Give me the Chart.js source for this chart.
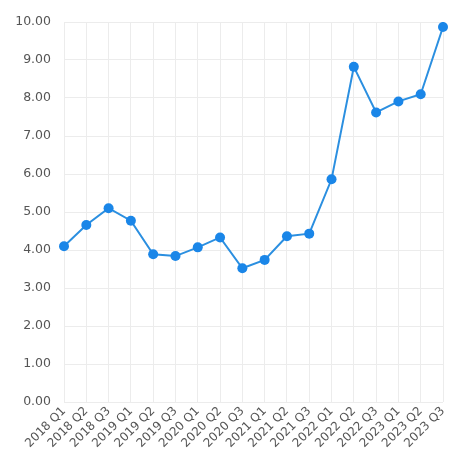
<!DOCTYPE html>
<html>
<head>
<meta charset="utf-8">
<script src="https://cdn.jsdelivr.net/npm/chart.js@4/dist/chart.umd.min.js"></script>
<style>
  html, body { margin: 0; padding: 0; background: #fff; }
  #wrap { width: 449px; height: 450px; }
</style>
</head>
<body>
<div id="wrap"><canvas id="chart"></canvas></div>
<script>
const quarters = [
    "2018 Q1", "2018 Q2", "2018 Q3",
    "2019 Q1", "2019 Q2", "2019 Q3",
    "2020 Q1", "2020 Q2", "2020 Q3",
    "2021 Q1", "2021 Q2", "2021 Q3",
    "2022 Q1", "2022 Q2", "2022 Q3",
    "2023 Q1", "2023 Q2", "2023 Q3",
];
const values = [
    4.1, 4.66, 5.1,
    4.77, 3.89, 3.84,
    4.07, 4.33, 3.52,
    3.74, 4.36, 4.43,
    5.86, 8.82, 7.62,
    7.91, 8.1, 9.87,
];
const yMin = 0;
const yMax = 10;
const yStep = 1;

const ctx = document.getElementById("chart").getContext("2d");

new Chart(ctx, {
    type: "line",
    data: {
        labels: quarters,
        datasets: [
            {
                data: values,
                borderColor: "#2b8fe0",
                backgroundColor: "#1e88e5",
                borderWidth: 2,
                pointRadius: 5,
                pointBorderWidth: 0,
                pointBackgroundColor: "#1a86e8",
                tension: 0,
            },
        ],
    },
    options: {
        responsive: true,
        maintainAspectRatio: false,
        animation: false,
        layout: { padding: { top: 22, right: 6, left: 0, bottom: 0 } },
        plugins: {
            legend: { display: false },
            tooltip: { enabled: false },
        },
        scales: {
            x: {
                offset: false,
                grid: { color: "#ececec", drawTicks: false },
                border: { display: false },
                ticks: {
                    autoSkip: false,
                    maxRotation: 45,
                    minRotation: 45,
                    padding: 2,
                    color: "#555",
                    font: { family: "DejaVu Sans", size: 12 },
                },
                afterFit: (scale) => {
                    scale.height = 48;
                    scale.paddingRight = 0;
                    scale.paddingLeft = 0;
                },
            },
            y: {
                min: yMin,
                max: yMax,
                grid: { color: "#ececec", drawTicks: false },
                border: { display: false },
                ticks: {
                    stepSize: yStep,
                    padding: 13,
                    color: "#555",
                    font: { family: "DejaVu Sans", size: 12.5 },
                    callback: (v) => v.toFixed(2),
                },
                afterFit: (scale) => {
                    scale.width = 64;
                    scale.paddingTop = 0;
                },
            },
        },
    },
});
</script>
</body>
</html>
